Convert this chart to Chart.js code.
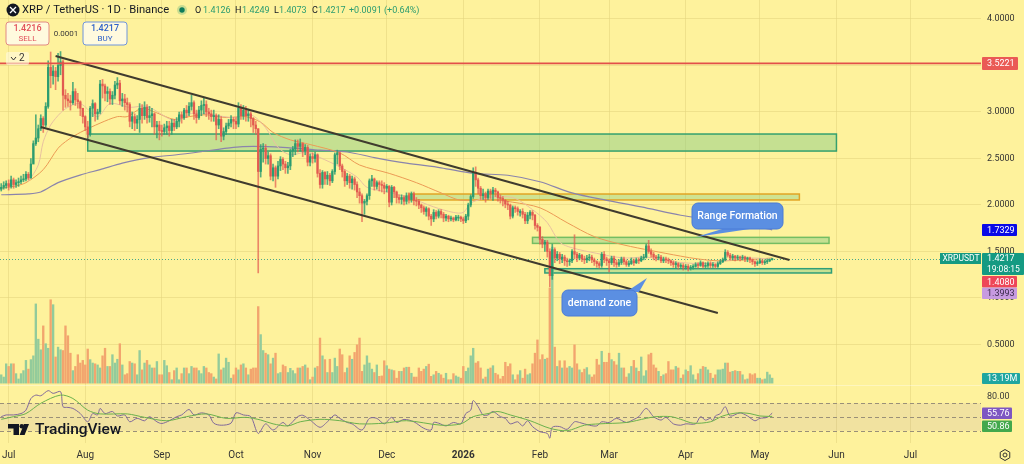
<!DOCTYPE html>
<html>
<head>
<meta charset="utf-8">
<title>XRP / TetherUS</title>
<script src="https://cdn.jsdelivr.net/npm/chart.js@4"></script>
<style>
  html, body { margin: 0; padding: 0; background: #fef29c; }
  canvas { display: block; }
</style>
</head>
<body>
<canvas id="chart" width="1024" height="464"></canvas>
<script>
// daily candles, Jun 28 2025 onward
const firstOpen = 2.17;
const closes = [
  2.19,2.21,2.23,2.20,2.27,2.22,2.24,2.25,2.27,2.28,
  2.33,2.29,2.44,2.66,2.72,2.82,2.93,2.86,3.06,3.48,
  3.39,3.44,3.38,3.50,3.54,3.18,3.14,3.12,3.10,3.22,
  3.13,3.11,3.04,2.95,2.84,2.76,3.04,3.09,2.98,3.00,
  3.30,3.28,3.20,3.22,3.14,3.18,3.29,3.31,3.12,3.14,
  3.10,3.08,2.90,2.95,2.88,2.92,3.04,2.96,3.05,2.94,
  2.96,2.98,2.84,2.86,2.80,2.79,2.83,2.85,2.80,2.88,
  2.84,2.90,2.97,2.94,3.02,2.99,3.06,3.10,2.98,2.94,
  3.02,3.07,3.08,3.00,2.98,2.95,2.96,2.86,2.92,2.74,
  2.79,2.85,2.88,2.92,2.90,2.87,3.04,2.96,3.02,2.96,
  2.98,2.93,2.86,2.82,2.36,2.60,2.61,2.50,2.53,2.31,
  2.40,2.31,2.42,2.49,2.44,2.40,2.42,2.58,2.60,2.66,
  2.63,2.66,2.58,2.62,2.46,2.52,2.50,2.54,2.34,2.22,
  2.35,2.28,2.32,2.26,2.36,2.54,2.56,2.42,2.36,2.26,
  2.31,2.24,2.28,2.22,2.14,2.10,2.02,2.04,2.10,2.26,
  2.28,2.20,2.24,2.22,2.21,2.18,2.20,2.03,2.19,2.14,
  2.08,2.06,2.08,2.04,2.10,2.06,2.12,2.05,2.04,2.00,
  1.97,1.93,1.96,1.88,1.85,1.92,1.88,1.93,1.90,1.86,
  1.88,1.85,1.86,1.84,1.87,1.87,1.85,1.83,1.88,2.00,
  2.09,2.35,2.27,2.18,2.10,2.12,2.08,2.15,2.12,2.16,
  2.14,2.08,2.07,2.05,2.01,2.00,1.88,1.97,1.96,1.93,
  1.93,1.90,1.83,1.89,1.92,1.89,1.78,1.76,1.63,1.58,
  1.60,1.50,1.24,1.52,1.43,1.47,1.42,1.44,1.40,1.39,
  1.40,1.50,1.47,1.43,1.46,1.42,1.41,1.43,1.44,1.41,
  1.39,1.37,1.35,1.47,1.42,1.40,1.38,1.43,1.38,1.36,
  1.38,1.42,1.39,1.36,1.37,1.40,1.38,1.41,1.40,1.43,
  1.44,1.56,1.50,1.47,1.44,1.43,1.44,1.40,1.42,1.41,
  1.40,1.38,1.36,1.37,1.34,1.35,1.33,1.34,1.32,1.33,
  1.34,1.36,1.35,1.38,1.34,1.35,1.37,1.35,1.36,1.34,
  1.37,1.39,1.41,1.49,1.46,1.43,1.45,1.43,1.44,1.43,
  1.44,1.42,1.43,1.41,1.39,1.37,1.38,1.40,1.38,1.39,1.40,1.4126,1.4217
];
const highs = [
  2.23,2.25,2.26,2.27,2.31,2.29,2.27,2.29,2.31,2.33,
  2.36,2.35,2.50,2.69,2.97,2.86,2.97,2.95,3.10,3.55,
  3.645,3.50,3.48,3.63,3.65,3.56,3.24,3.20,3.18,3.32,
  3.25,3.20,3.12,3.04,2.96,2.90,3.06,3.13,3.10,3.03,
  3.34,3.35,3.30,3.27,3.25,3.22,3.33,3.37,3.34,3.20,
  3.19,3.15,3.10,3.00,2.98,2.96,3.09,3.08,3.11,3.08,
  3.06,3.04,2.99,2.90,2.90,2.86,2.87,2.90,2.90,2.92,
  2.92,2.94,3.00,3.00,3.04,3.07,3.10,3.18,3.12,3.02,
  3.06,3.12,3.15,3.12,3.04,3.02,3.02,2.98,2.97,2.95,
  2.83,2.88,2.92,2.96,2.94,2.94,3.10,3.08,3.07,3.06,
  3.03,3.00,2.94,2.90,2.82,2.65,2.66,2.65,2.57,2.55,
  2.44,2.42,2.47,2.52,2.51,2.47,2.46,2.60,2.63,2.70,
  2.70,2.71,2.67,2.65,2.64,2.55,2.56,2.57,2.55,2.38,
  2.37,2.36,2.36,2.34,2.38,2.56,2.59,2.57,2.44,2.38,
  2.34,2.33,2.31,2.30,2.25,2.18,2.12,2.06,2.12,2.28,
  2.32,2.29,2.26,2.26,2.26,2.24,2.22,2.21,2.21,2.20,
  2.15,2.11,2.11,2.10,2.13,2.13,2.14,2.14,2.08,2.06,
  2.01,1.99,1.98,1.97,1.90,1.95,1.94,1.95,1.95,1.92,
  1.90,1.89,1.88,1.87,1.89,1.89,1.88,1.87,1.90,2.02,
  2.11,2.40,2.41,2.29,2.20,2.17,2.14,2.17,2.17,2.19,
  2.18,2.15,2.11,2.09,2.06,2.04,2.01,1.99,1.99,1.98,
  1.95,1.96,1.92,1.92,1.94,1.94,1.90,1.80,1.77,1.66,
  1.62,1.62,1.53,1.58,1.54,1.50,1.49,1.47,1.46,1.43,
  1.42,1.52,1.68,1.49,1.48,1.47,1.45,1.46,1.47,1.46,
  1.43,1.40,1.39,1.49,1.50,1.44,1.42,1.45,1.45,1.41,
  1.41,1.44,1.44,1.41,1.40,1.43,1.42,1.43,1.43,1.45,
  1.47,1.58,1.62,1.53,1.49,1.46,1.47,1.46,1.44,1.44,
  1.43,1.41,1.40,1.39,1.38,1.37,1.37,1.36,1.36,1.35,
  1.36,1.38,1.38,1.40,1.39,1.38,1.39,1.39,1.38,1.37,
  1.39,1.41,1.43,1.52,1.51,1.48,1.47,1.46,1.46,1.45,
  1.46,1.45,1.44,1.44,1.42,1.40,1.40,1.42,1.41,1.41,1.42,1.42,1.4249
];
const lows = [
  2.15,2.17,2.18,2.16,2.18,2.18,2.19,2.20,2.23,2.25,
  2.26,2.27,2.29,2.45,2.64,2.68,2.80,2.78,2.84,3.04,
  3.26,3.30,3.24,3.33,3.40,3.02,3.05,3.06,3.02,3.08,
  3.07,3.04,2.96,2.88,2.80,2.72,2.74,2.95,2.90,2.92,
  2.98,3.15,3.12,3.11,3.08,3.08,3.14,3.25,3.08,3.06,
  3.02,3.00,2.84,2.82,2.80,2.82,2.78,2.88,2.92,2.88,
  2.89,2.84,2.76,2.72,2.70,2.74,2.76,2.76,2.74,2.76,
  2.80,2.82,2.84,2.88,2.92,2.94,2.96,3.02,2.92,2.88,
  2.92,2.96,2.98,2.95,2.92,2.90,2.90,2.70,2.82,2.68,
  2.70,2.76,2.82,2.84,2.82,2.82,2.84,2.92,2.92,2.90,
  2.90,2.84,2.78,2.76,1.27,2.30,2.46,2.44,2.44,2.27,
  2.26,2.19,2.28,2.37,2.38,2.34,2.34,2.38,2.52,2.54,
  2.57,2.58,2.52,2.54,2.42,2.42,2.45,2.46,2.30,2.18,
  2.18,2.22,2.22,2.21,2.24,2.33,2.44,2.38,2.30,2.20,
  2.22,2.18,2.17,2.16,2.08,2.02,1.82,1.90,2.00,2.06,
  2.20,2.16,2.17,2.15,2.14,2.12,2.14,1.98,2.00,2.08,
  2.02,2.02,2.01,2.00,2.01,2.02,2.03,2.00,1.99,1.96,
  1.92,1.90,1.88,1.84,1.78,1.82,1.85,1.86,1.86,1.82,
  1.83,1.82,1.83,1.82,1.83,1.83,1.82,1.80,1.81,1.84,
  1.98,2.07,2.20,2.12,2.06,2.06,2.03,2.06,2.07,2.05,
  2.09,2.04,2.02,1.99,1.97,1.95,1.85,1.86,1.92,1.89,
  1.88,1.86,1.80,1.80,1.85,1.84,1.74,1.72,1.58,1.54,
  1.50,1.44,1.12,1.20,1.38,1.40,1.37,1.38,1.35,1.34,
  1.35,1.38,1.42,1.39,1.41,1.39,1.37,1.38,1.40,1.38,
  1.35,1.33,1.32,1.33,1.38,1.35,1.28,1.36,1.34,1.33,
  1.34,1.36,1.36,1.34,1.34,1.36,1.35,1.37,1.37,1.39,
  1.41,1.43,1.48,1.44,1.41,1.40,1.41,1.38,1.38,1.38,
  1.37,1.35,1.33,1.32,1.31,1.32,1.30,1.31,1.29,1.30,
  1.31,1.33,1.32,1.34,1.32,1.32,1.33,1.32,1.33,1.32,
  1.33,1.36,1.38,1.40,1.44,1.41,1.41,1.40,1.41,1.40,
  1.41,1.39,1.39,1.38,1.36,1.34,1.35,1.37,1.36,1.36,1.37,1.39,1.4073
];
// volume in millions
const volumes = [
  22,16,51,44,51,51,25,11,25,33,
  60,37,62,72,209,116,88,151,104,92,
  220,207,69,95,88,86,151,125,79,33,
  44,75,53,60,48,90,62,53,51,48,
  40,72,92,44,44,75,53,63,104,48,
  22,25,57,53,51,22,86,35,53,60,
  48,40,40,57,22,22,60,46,28,9,
  33,40,9,25,40,40,25,44,40,40,
  33,25,44,40,28,25,16,11,77,35,
  40,66,55,13,22,40,35,48,51,40,
  22,37,40,40,202,128,86,79,75,51,
  66,79,25,28,48,44,28,39,33,25,
  40,40,44,48,40,9,16,40,44,119,
  72,62,28,63,28,66,44,90,75,28,
  40,72,63,81,101,119,31,48,72,53,
  37,28,48,18,19,59,46,37,35,33,
  13,31,31,40,42,42,26,16,16,40,
  31,37,44,50,18,22,31,26,22,13,
  26,9,9,25,19,16,13,44,31,40,
  72,92,53,57,40,11,16,37,40,46,
  26,22,11,18,55,44,51,22,9,22,
  33,13,37,22,25,51,79,114,62,75,
  63,66,251,359,95,44,59,40,59,40,
  44,40,101,51,35,28,37,41,22,16,
  22,63,48,84,55,55,79,62,57,48,
  79,40,40,16,25,44,60,40,31,69,
  19,33,75,79,48,40,31,18,22,25,
  57,35,35,44,40,13,22,35,31,46,
  22,9,25,37,44,42,35,26,13,22,
  35,35,37,53,53,29,31,33,31,31,
  22,9,11,25,22,25,13,13,9,11,29,22,13.19
];
// moving averages at these candles
const fastMaDays = [11,15,17,20,24,27,32,39,44,52,59,70,78,94,101,107,112,117,124,129,137,144,148,156,165,175,183,187,190,194,198,207,215,221,226,231,241,252,261,272,283,291,301,312];
const fastMa = [2.25,2.43,2.68,2.86,2.99,3.05,3.09,2.95,3.09,3.05,3.06,2.91,2.99,2.94,2.97,2.83,2.62,2.54,2.57,2.51,2.41,2.30,2.19,2.14,2.08,1.98,1.92,1.92,2.02,2.06,2.08,2.08,1.95,1.81,1.60,1.54,1.48,1.43,1.44,1.39,1.37,1.39,1.43,1.42];
const midMaDays = [0,5,10,17,23,27,32,40,47,51,57,63,70,76,83,91,99,105,110,117,125,137,145,157,168,178,186,197,207,218,229,240,252,263,275,282,290,301,312];
const midMa = [2.18,2.20,2.24,2.38,2.61,2.70,2.78,2.88,2.95,2.95,3.04,2.99,2.92,2.95,2.97,2.94,2.95,2.89,2.78,2.70,2.65,2.56,2.43,2.34,2.24,2.13,2.05,2.06,2.03,1.97,1.81,1.66,1.57,1.51,1.45,1.42,1.40,1.41,1.43];
const slowMaDays = [0,11,16,23,33,40,49,60,71,80,94,102,114,129,140,151,164,178,191,205,218,231,245,259,275,288,311,312];
const slowMa = [2.11,2.12,2.14,2.24,2.33,2.38,2.45,2.51,2.54,2.57,2.62,2.63,2.62,2.59,2.57,2.51,2.45,2.40,2.34,2.32,2.25,2.13,2.05,1.98,1.89,1.84,1.74,1.7329];
// RSI pane
const rsiDays = [0,2,5,8,10,12,14,16,19,21,24,25,27,29,32,35,37,39,40,42,45,47,50,52,55,58,60,63,65,68,71,73,76,78,81,84,86,89,93,95,98,101,104,107,110,114,116,120,122,125,129,132,135,137,140,142,146,149,152,155,158,160,163,167,171,174,175,177,180,183,186,188,190,191,193,195,197,199,202,204,206,209,211,213,215,218,221,222,223,226,229,232,234,238,241,243,246,249,253,256,258,261,264,267,269,272,275,277,281,283,285,287,288,289,291,293,295,299,302,305,307,310,312];
const rsiValues = [50.5,53,53,55,60,77,82,81,88.5,84.5,87,65,64,62.5,55,43,55,53,62.5,55,58,51.5,53,43,48,44.5,50.5,43,40.5,44.5,50.5,53,61,53,56,53,41,38,41,56,53,50.5,26,40,31,42,37,50.5,52.5,45.5,35,43,53,48,42,40,31,48,48,40,49.5,42,46.5,43,33.5,31,42,41,37,42,40,55,60,74,65,53,53,58,50.5,48,40,43,37,44.5,36,28.5,26,19,35,36,32,43,42,38,37,43,42,48,42,46.5,50.5,62.5,50.5,45.5,49.5,40,38,40,40,50.5,45.5,48,44.5,51.5,55,65,51.5,56,51.5,44.5,48,49.5,55.76];
const rsiMaDays = [0,5,10,16,24,29,35,40,51,58,67,75,83,91,99,105,110,116,121,129,137,145,155,164,178,186,191,197,201,206,214,222,229,236,242,253,261,265,271,275,280,287,292,298,303,307,312];
const rsiMa = [46.6,50.5,55,70,82,77,60,54.5,54.5,49.5,44.5,50.5,54.5,48,49.5,45.6,40,37,43,46.6,44.6,40,41,44.6,38,40,50.5,55,58,53,44.6,33.5,30,38,40,42,48,50.5,50.5,46.6,41,43,51.5,56,55,51.5,50.86];
const rsiLevels = [70, 50, 30];
// x axis
const startDate = new Date(Date.UTC(2025, 5, 28));
const dayCount = 397;
const tickDays = [3,34,65,95,126,156,187,218,246,277,307,338,368];
const tickLabels = ['Jul','Aug','Sep','Oct','Nov','Dec','2026','Feb','Mar','Apr','May','Jun','Jul'];
const priceTicks = [0.5,1,1.5,2,2.5,3,3.5,4];
// drawn zones: first day, last day, top price, bottom price
const zoneFrom = [35,165,215,220];
const zoneTo = [338,323,335,336];
const zoneTop = [2.763,2.118,1.652,1.315];
const zoneBottom = [2.58,2.054,1.587,1.269];
// channel lines
const upperDays = [22,319];
const upperPrices = [3.602,1.409];
const lowerDays = [16,290];
const lowerPrices = [2.839,0.839];
const resistancePrice = 3.5221;
const lastPrice = 1.4217;

const labels = [];
for (let i = 0; i < dayCount; i++) {
  labels.push(new Date(startDate.getTime() + i * 86400000).toISOString().slice(0, 10));
}
const opens = closes.map((c, i) => i === 0 ? firstOpen : closes[i - 1]);
const isUp = i => closes[i] >= opens[i];

const green = '#2b9c70';
const red = '#e25a50';
const font = 'Roboto, sans-serif';

function anchored(days, values) {
  const out = new Array(closes.length + 10).fill(null);
  days.forEach((d, i) => { out[d] = values[i]; });
  return out;
}

function maLine(days, values, color, width, axis, order) {
  return {
    type: 'line', data: anchored(days, values), yAxisID: axis, order,
    borderColor: color, borderWidth: width, pointRadius: 0, spanGaps: true,
    tension: 0.3
  };
}

function rounded(ctx, x, y, w, h, r) {
  ctx.beginPath();
  ctx.roundRect(x, y, w, h, r);
}

function label(ctx, text, x, y, color, size, align, weight) {
  ctx.fillStyle = color;
  ctx.font = (weight || 400) + ' ' + size + 'px ' + font;
  ctx.textAlign = align || 'left';
  ctx.textBaseline = 'middle';
  ctx.fillText(text, x, y);
}

function badge(ctx, text, y, h, w, fill, color) {
  ctx.fillStyle = fill;
  rounded(ctx, 982, y, w, h, 1);
  ctx.fill();
  label(ctx, text, 987, y + h / 2 + 0.5, color, 9);
}

function callout(ctx, x, y, w, h, tail, text) {
  ctx.fillStyle = '#5b8fe2';
  ctx.beginPath();
  ctx.moveTo(tail[0], tail[1]);
  ctx.lineTo(tail[2], tail[3]);
  ctx.lineTo(tail[4], tail[5]);
  ctx.closePath();
  ctx.fill();
  rounded(ctx, x, y, w, h, 6);
  ctx.fill();
  ctx.strokeStyle = '#4a7bd6';
  ctx.lineWidth = 1;
  ctx.stroke();
  label(ctx, text, x + w / 2, y + h / 2, '#ffffff', 10.5, 'center', 500);
}

const overlays = {
  id: 'overlays',
  beforeDatasetsDraw(chart) {
    const { ctx, scales, chartArea } = chart;
    const px = scales.x, py = scales.y, pr = scales.rsi;
    // rsi band
    ctx.fillStyle = 'rgba(126,87,194,0.10)';
    ctx.fillRect(0, pr.getPixelForValue(70), chartArea.right, pr.getPixelForValue(30) - pr.getPixelForValue(70));
    ctx.strokeStyle = '#9a9078';
    ctx.lineWidth = 1;
    ctx.setLineDash([4, 3]);
    rsiLevels.forEach(l => {
      const y = Math.round(pr.getPixelForValue(l)) + 0.5;
      ctx.beginPath();
      ctx.moveTo(0, y);
      ctx.lineTo(chartArea.right, y);
      ctx.stroke();
    });
    ctx.setLineDash([]);
    // pane divider
    ctx.fillStyle = 'rgba(255,255,255,0.35)';
    ctx.fillRect(0, 385, chartArea.right, 1);
    // zones
    const fills = ['rgba(120,200,130,0.42)', 'rgba(120,200,130,0.35)', 'rgba(120,200,130,0.42)', 'rgba(120,200,130,0.42)'];
    const edges = ['#35a06e', '#e2a424', '#74bd62', '#2f9e78'];
    zoneFrom.forEach((d, i) => {
      const x0 = px.getPixelForValue(d), x1 = px.getPixelForValue(zoneTo[i]);
      const y0 = py.getPixelForValue(zoneTop[i]), y1 = py.getPixelForValue(zoneBottom[i]);
      ctx.fillStyle = fills[i];
      ctx.fillRect(x0, y0, x1 - x0, y1 - y0);
      ctx.strokeStyle = edges[i];
      ctx.lineWidth = 1.5;
      ctx.strokeRect(x0, y0, x1 - x0, y1 - y0);
    });
    // last price dotted line
    const yl = Math.round(py.getPixelForValue(lastPrice)) + 0.5;
    ctx.strokeStyle = '#4aa88a';
    ctx.lineWidth = 1;
    ctx.setLineDash([1, 2]);
    ctx.beginPath();
    ctx.moveTo(0, yl);
    ctx.lineTo(chartArea.right, yl);
    ctx.stroke();
    ctx.setLineDash([]);
  },
  afterDatasetsDraw(chart) {
    const { ctx, scales, chartArea } = chart;
    // resistance line
    const yr = scales.y.getPixelForValue(resistancePrice);
    ctx.strokeStyle = '#e2504a';
    ctx.lineWidth = 1.6;
    ctx.beginPath();
    ctx.moveTo(0, yr);
    ctx.lineTo(chartArea.right, yr);
    ctx.stroke();
    callout(ctx, 692, 203, 91, 26, [696, 237, 732, 226, 770, 226], 'Range Formation');
    callout(ctx, 562, 290, 75, 26, [647, 278, 626, 292, 639, 292], 'demand zone');
  },
  afterDraw(chart) {
    const { ctx, scales } = chart;
    const py = scales.y;
    // price tags
    badge(ctx, '3.5221', py.getPixelForValue(resistancePrice) - 6.5, 13, 36, '#ea5a55', '#ffffff');
    badge(ctx, '1.7329', 224, 12, 35, '#0a0ae6', '#ffffff');
    ctx.fillStyle = '#159a82';
    ctx.fillRect(940, 253, 41, 11);
    label(ctx, 'XRPUSDT', 942.5, 259, '#ffffff', 8.5);
    ctx.fillStyle = '#159a82';
    rounded(ctx, 982, 253, 42, 22, 1);
    ctx.fill();
    label(ctx, '1.4217', 987, 259, '#ffffff', 9);
    label(ctx, '19:08:15', 987, 269.5, '#ffffff', 8.5);
    badge(ctx, '1.4080', 276, 11.5, 35, '#ee4658', '#ffffff');
    badge(ctx, '1.3993', 287.5, 11.5, 35, '#c79ae0', '#3a2a4a');
    badge(ctx, '13.19M', 373, 11, 38, '#1fa6a0', '#ffffff');
    label(ctx, '80.00', 987, 397, '#3a3a3a', 9);
    badge(ctx, '55.76', 407.5, 11.5, 30, '#7e57c2', '#ffffff');
    badge(ctx, '50.86', 420.5, 11.5, 30, '#43a84c', '#ffffff');

    // header
    ctx.fillStyle = '#131722';
    ctx.beginPath();
    ctx.arc(13, 10, 6.5, 0, Math.PI * 2);
    ctx.fill();
    ctx.strokeStyle = '#ffffff';
    ctx.lineWidth = 1.3;
    ctx.beginPath();
    ctx.moveTo(10, 7); ctx.lineTo(16, 13);
    ctx.moveTo(16, 7); ctx.lineTo(10, 13);
    ctx.stroke();
    label(ctx, 'XRP / TetherUS · 1D · Binance', 22, 10.5, '#131722', 11.2);
    ctx.fillStyle = 'rgba(43,156,112,0.25)';
    ctx.beginPath(); ctx.arc(182, 10, 5, 0, Math.PI * 2); ctx.fill();
    ctx.fillStyle = '#0e7c5a';
    ctx.beginPath(); ctx.arc(182, 10, 2.7, 0, Math.PI * 2); ctx.fill();
    const parts = [['O', 195], ['1.4126', 203], ['H', 235], ['1.4249', 242], ['L', 274], ['1.4073', 279], ['C', 312], ['1.4217', 318], ['+0.0091 (+0.64%)', 349]];
    parts.forEach((p, i) => {
      label(ctx, p[0], p[1], 10.5, (i % 2 === 0 && i < 8) ? '#131722' : '#2b9c70', 9);
    });

    // sell / buy boxes
    ctx.fillStyle = 'rgba(255,250,225,0.95)';
    rounded(ctx, 6, 22, 43, 23, 3);
    ctx.fill();
    ctx.strokeStyle = '#e28a84';
    ctx.lineWidth = 1;
    ctx.stroke();
    label(ctx, '1.4216', 27.5, 29, '#e2505a', 9, 'center', 500);
    label(ctx, 'SELL', 27.5, 39, '#e2505a', 8, 'center');
    label(ctx, '0.0001', 66, 33.5, '#3a3a3a', 8, 'center');
    ctx.fillStyle = 'rgba(255,250,225,0.95)';
    rounded(ctx, 83, 22, 44, 23, 3);
    ctx.fill();
    ctx.strokeStyle = '#6f94dc';
    ctx.stroke();
    label(ctx, '1.4217', 105, 29, '#2f62c8', 9, 'center', 500);
    label(ctx, 'BUY', 105, 39, '#2f62c8', 8, 'center');

    // collapsed indicators
    ctx.fillStyle = 'rgba(255,250,225,0.6)';
    rounded(ctx, 6, 52, 23, 13, 2);
    ctx.fill();
    ctx.strokeStyle = '#333333';
    ctx.lineWidth = 1;
    ctx.beginPath();
    ctx.moveTo(11, 57); ctx.lineTo(13.5, 60); ctx.lineTo(16, 57);
    ctx.stroke();
    label(ctx, '2', 19, 58.5, '#333333', 10);

    // tradingview logo
    ctx.fillStyle = '#131722';
    ctx.fillRect(8, 424, 11, 4.5);
    ctx.fillRect(13.5, 424, 5.5, 11);
    ctx.beginPath(); ctx.arc(21.8, 426.2, 2.3, 0, Math.PI * 2); ctx.fill();
    ctx.beginPath();
    ctx.moveTo(24, 424); ctx.lineTo(29, 424); ctx.lineTo(24.6, 435); ctx.lineTo(19.6, 435);
    ctx.closePath();
    ctx.fill();
    label(ctx, 'TradingView', 35, 430, '#131722', 15.5, 'left', 500);

    // settings gear
    ctx.strokeStyle = '#333333';
    ctx.lineWidth = 1;
    ctx.beginPath();
    for (let i = 0; i < 6; i++) {
      const a = Math.PI / 6 + i * Math.PI / 3;
      ctx.lineTo(1005 + 5.5 * Math.cos(a), 455 + 5.5 * Math.sin(a));
    }
    ctx.closePath();
    ctx.stroke();
    ctx.beginPath(); ctx.arc(1005, 455, 2, 0, Math.PI * 2); ctx.stroke();
  }
};

new Chart(document.getElementById('chart'), {
  type: 'bar',
  plugins: [overlays],
  data: {
    labels,
    datasets: [
      maLine(upperDays, upperPrices, '#3f3b2e', 2, 'y', 1),
      maLine(lowerDays, lowerPrices, '#3f3b2e', 2, 'y', 1),
      {
        data: closes.map((c, i) => [opens[i], c]),
        backgroundColor: closes.map((c, i) => isUp(i) ? green : red),
        barThickness: 1.6, grouped: false, minBarLength: 1, yAxisID: 'y', order: 3
      },
      {
        data: closes.map((c, i) => [lows[i], highs[i]]),
        backgroundColor: closes.map((c, i) => isUp(i) ? 'rgba(43,156,112,0.8)' : 'rgba(226,90,80,0.7)'),
        barThickness: 1, grouped: false, yAxisID: 'y', order: 4
      },
      maLine(fastMaDays, fastMa, '#e8c0a0', 1, 'y', 5),
      maLine(midMaDays, midMa, '#eb9a55', 1, 'y', 6),
      maLine(slowMaDays, slowMa, '#8a84ac', 1.2, 'y', 7),
      {
        data: volumes,
        backgroundColor: volumes.map((v, i) => isUp(i) ? '#93cb9b' : '#f2a56e'),
        barThickness: 1.7, grouped: false, yAxisID: 'vol', order: 9
      },
      maLine(rsiMaDays, rsiMa, '#6ab04c', 1, 'rsi', 2),
      maLine(rsiDays, rsiValues, '#80689a', 1, 'rsi', 2)
    ]
  },
  options: {
    responsive: false,
    animation: false,
    devicePixelRatio: 1,
    layout: { padding: 0 },
    plugins: { legend: { display: false }, tooltip: { enabled: false } },
    scales: {
      x: {
        afterFit: s => { s.height = 21; s.paddingLeft = 0; s.paddingRight = 0; },
        afterBuildTicks: s => { s.ticks = tickDays.map(v => ({ value: v })); },
        border: { display: false },
        grid: { offset: false, drawTicks: false, color: 'rgba(225,212,125,0.55)' },
        ticks: {
          autoSkip: false, maxRotation: 0, padding: 6, color: '#333333',
          font: ctx => ({ family: font, size: 10, weight: ctx.tick && ctx.tick.label === '2026' ? 'bold' : 'normal' }),
          callback: (v, i) => tickLabels[i]
        }
      },
      y: {
        position: 'right',
        min: -0.559, max: 4.204,
        afterFit: s => { s.width = 43; s.paddingTop = 0; s.paddingBottom = 0; },
        afterBuildTicks: s => { s.ticks = priceTicks.map(v => ({ value: v })); },
        border: { display: false },
        grid: { drawTicks: false, color: 'rgba(225,212,125,0.55)' },
        ticks: { padding: 6, color: '#333333', font: { family: font, size: 9 }, callback: v => v.toFixed(4) }
      },
      vol: { axis: 'y', position: 'right', display: false, min: -158, max: 1011 },
      rsi: { axis: 'y', position: 'right', display: false, min: 12.04, max: 658.8 }
    }
  }
});
</script>
</body>
</html>
